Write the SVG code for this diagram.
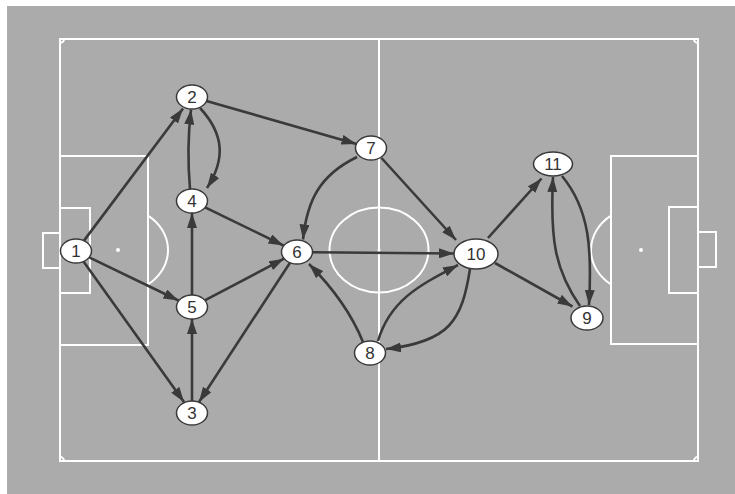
<svg xmlns="http://www.w3.org/2000/svg" width="735" height="494" viewBox="0 0 735 494">
<defs>
<style>
.pitch{fill:none;stroke:#ffffff;stroke-width:2}
.edge{fill:none;stroke:#3a3a3a;stroke-width:2.6;marker-end:url(#ah)}
.node ellipse{fill:#ffffff;stroke:#3a3a3a;stroke-width:1.5}
.node text{font-family:"Liberation Sans",Arial,sans-serif;font-size:17px;fill:#333333;text-anchor:middle;dominant-baseline:central}
</style>
<marker id="ah" markerUnits="userSpaceOnUse" markerWidth="15" markerHeight="10" refX="15" refY="5" orient="auto" viewBox="0 0 15 10">
<path d="M0,0 L15,5 L0,10 z" fill="#3a3a3a"/>
</marker>
</defs>
<rect x="0" y="0" width="735" height="494" fill="#ffffff"/>
<rect x="7" y="6" width="728" height="488" fill="#ababab"/>
<g id="pitch" class="pitch">
<rect x="60" y="39" width="638" height="422"/>
<line x1="379" y1="39" x2="379" y2="461"/>
<ellipse cx="379" cy="250" rx="49.5" ry="42.5"/>
<circle cx="379" cy="250" r="1.5" fill="#ffffff" stroke="none"/>
<rect x="60" y="156" width="88" height="189"/>
<rect x="60" y="208" width="30" height="85"/>
<rect x="43" y="233" width="17" height="35"/>
<circle cx="118" cy="250" r="2" fill="#ffffff" stroke="none"/>
<path d="M148,215.6 A50,43 0 0 1 148,284.4"/>
<rect x="611" y="156" width="87" height="188"/>
<rect x="669" y="207" width="29" height="86"/>
<rect x="698" y="232" width="18" height="35"/>
<circle cx="641" cy="250" r="2" fill="#ffffff" stroke="none"/>
<path d="M611,215.6 A50,43 0 0 0 611,284.4"/>
<path d="M60,43 A4,4 0 0 0 64,39"/>
<path d="M694,39 A4,4 0 0 0 698,43"/>
<path d="M60,457 A4,4 0 0 1 64,461"/>
<path d="M694,461 A4,4 0 0 1 698,457"/>
</g>
<g id="edges">
<path class="edge" d="M84,240.6 L183,108.5"/>
<path class="edge" d="M89.2,257.4 L178.5,300.5"/>
<path class="edge" d="M83.5,261.5 L184,402"/>
<path class="edge" d="M206.5,101.1 L356.5,143.9"/>
<path class="edge" d="M200,108 C225,135 225,160 207,188"/>
<path class="edge" d="M190,189 C187.5,160 188,135 191,109.5"/>
<path class="edge" d="M205.1,207.4 L283.5,245.5"/>
<path class="edge" d="M192,295 L192,213"/>
<path class="edge" d="M204.8,300.3 L284,258.7"/>
<path class="edge" d="M192,401 L192,319"/>
<path class="edge" d="M290,262.7 L199,402"/>
<path class="edge" d="M312.5,252.2 L454,253.5"/>
<path class="edge" d="M357,157 C320,175 307,200 303,239.5"/>
<path class="edge" d="M381.5,158 L456,240"/>
<path class="edge" d="M363,342 C352,315 335,290 309,264"/>
<path class="edge" d="M378,341 C390,300 420,285 458,265"/>
<path class="edge" d="M470,269 C462,320 450,342 386,349"/>
<path class="edge" d="M488,238 L541.5,178.5"/>
<path class="edge" d="M495,263 L572.5,306.5"/>
<path class="edge" d="M562,176 C590,210 592,250 589,305"/>
<path class="edge" d="M580,306 C555,270 550,240 553,177"/>
</g>
<g id="n1" class="node"><ellipse cx="76" cy="251" rx="15.5" ry="12"/><text x="76" y="251">1</text></g>
<g id="n2" class="node"><ellipse cx="192" cy="97" rx="15.5" ry="12"/><text x="192" y="97">2</text></g>
<g id="n3" class="node"><ellipse cx="192" cy="413" rx="15.5" ry="12"/><text x="192" y="413">3</text></g>
<g id="n4" class="node"><ellipse cx="192" cy="201" rx="15.5" ry="12"/><text x="192" y="201">4</text></g>
<g id="n5" class="node"><ellipse cx="192" cy="307" rx="15.5" ry="12"/><text x="192" y="307">5</text></g>
<g id="n6" class="node"><ellipse cx="297" cy="252" rx="15.5" ry="12"/><text x="297" y="252">6</text></g>
<g id="n7" class="node"><ellipse cx="371" cy="148" rx="15.5" ry="12"/><text x="371" y="148">7</text></g>
<g id="n8" class="node"><ellipse cx="370" cy="353" rx="15.5" ry="12"/><text x="370" y="353">8</text></g>
<g id="n9" class="node"><ellipse cx="587" cy="318" rx="16" ry="12"/><text x="587" y="318">9</text></g>
<g id="n10" class="node"><ellipse cx="476" cy="254" rx="22" ry="15"/><text x="476" y="254">10</text></g>
<g id="n11" class="node"><ellipse cx="553" cy="164" rx="19.5" ry="12"/><text x="553" y="164">11</text></g>
</svg>
